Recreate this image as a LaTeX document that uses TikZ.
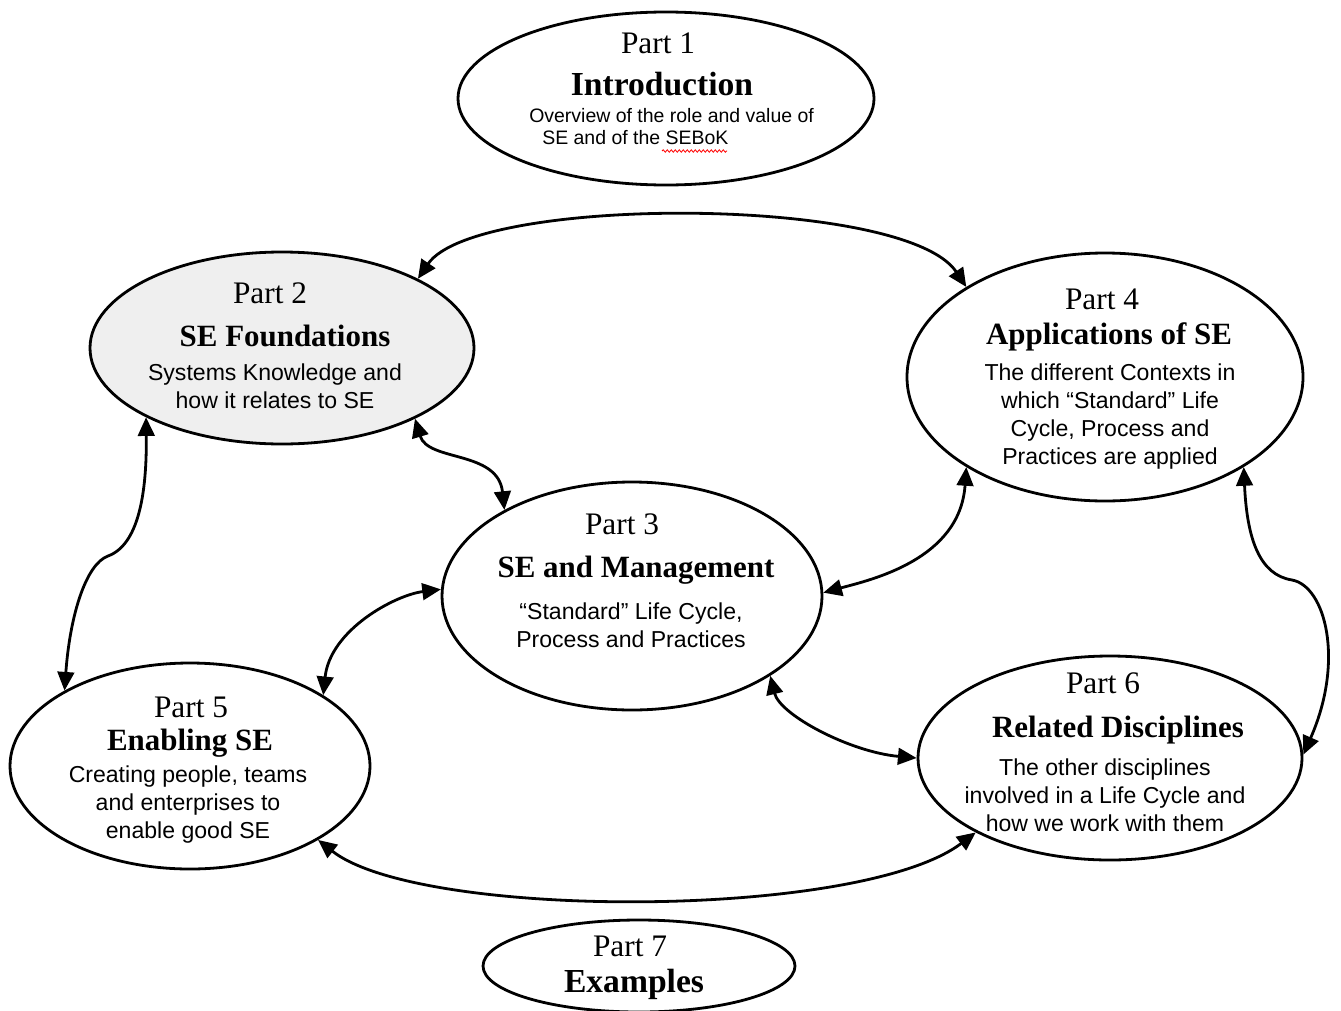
\documentclass[tikz,border=0pt]{standalone}
\usepackage{fontspec}
\setmainfont{Liberation Serif}
\newfontfamily\arialf{Liberation Sans}
\usetikzlibrary{arrows.meta,shapes.geometric,decorations.pathmorphing}
\definecolor{fgray}{RGB}{239,239,239}
\begin{document}
\begin{tikzpicture}[x=0.75pt,y=-0.75pt,
  part/.style={draw, ellipse, line width=2.1pt, inner sep=0pt},
  lbl/.style={inner sep=0pt, font=\fontsize{23.5}{27}\selectfont},
  ttl/.style={inner sep=0pt, font=\fontsize{23.2}{27}\selectfont\bfseries},
  bigttl/.style={inner sep=0pt, font=\fontsize{25.2}{29}\selectfont\bfseries},
  dsc/.style={inner sep=0pt, align=center, font=\arialf\fontsize{17.3}{21}\selectfont},
  sdsc/.style={inner sep=0pt, anchor=west, font=\arialf\fontsize{14.6}{17}\selectfont},
  tip/.style={Triangle[length=14pt,width=12.5pt]},
  conn/.style={line width=2.1pt, {Triangle[length=14pt,width=12.5pt]}-{Triangle[length=14pt,width=12.5pt]}}
]
\useasboundingbox (0,0) rectangle (1341,1010);

% ellipses
\node[part, minimum width=312pt, minimum height=129.75pt] (p1) at (666,98.5) {};
\node[part, fill=fgray, minimum width=288pt, minimum height=144pt] (p2) at (282,348) {};
\node[part, minimum width=285pt, minimum height=171pt] (p3) at (632,596) {};
\node[part, minimum width=297pt, minimum height=186pt] (p4) at (1105,377) {};
\node[part, minimum width=270pt, minimum height=154.5pt] (p5) at (190,766) {};
\node[part, minimum width=288pt, minimum height=153pt] (p6) at (1110,758) {};
\node[part, minimum width=234pt, minimum height=69pt] (p7) at (639,966) {};

% Part 1
\node[lbl] (p1a) at (658,43) {Part 1};
\node[bigttl] (p1b) at (662,84) {Introduction};
\node[sdsc] (p1c) at (529,116) {Overview of the role and value of};
\node[sdsc] (p1d) at (542,138) {SE and of the SEBoK};
\draw[red, line width=0.6pt, decorate, decoration={snake, segment length=3pt, amplitude=0.9pt}] (662,151) -- (727,151);

% Part 2
\node[lbl] (p2a) at (270,293) {Part 2};
\node[ttl] (p2b) at (285,336) {SE Foundations};
\node[dsc] (p2c) at (275,386) {Systems Knowledge and\\how it relates to SE};

% Part 3
\node[lbl] (p3a) at (622,524) {Part 3};
\node[ttl] (p3b) at (636,570) {SE and Management};
\node[dsc] (p3c) at (631,625.5) {“Standard” Life Cycle,\\Process and Practices};

% Part 4
\node[lbl] (p4a) at (1102,299) {Part 4};
\node[ttl] (p4b) at (1109,337) {Applications of SE};
\node[dsc] (p4c) at (1110,417) {The different Contexts in\\which “Standard” Life\\Cycle, Process and\\Practices are applied};

% Part 5
\node[lbl] (p5a) at (191,707) {Part 5};
\node[ttl] (p5b) at (190,743) {Enabling SE};
\node[dsc] (p5c) at (188,805) {Creating people, teams\\and enterprises to\\enable good SE};

% Part 6
\node[lbl] (p6a) at (1103,683) {Part 6};
\node[ttl] (p6b) at (1118,730) {Related Disciplines};
\node[dsc] (p6c) at (1105,795.5) {The other disciplines\\involved in a Life Cycle and\\how we work with them};

% Part 7
\node[lbl] (p7a) at (630,946) {Part 7};
\node[bigttl] (p7b) at (634,984) {Examples};

% connectors
\draw[conn] (p2.27.7) .. controls (475,195) and (905,195) .. (p4.147.3);
\draw[conn] (p2.332.3) .. controls (428,462) and (498,450) .. (p3.146.9);
\draw[conn] (p2.207.4) .. controls (147,495) and (138,545) .. (108,556)
                        .. controls (86,564) and (70,615) .. (p5.149.3);
\draw[conn] (p4.213.2) .. controls (960,560) and (870,580) .. (p3.1.8);
\draw[conn] (p4.327.1) .. controls (1247,540) and (1260,575) .. (1292,580)
                        .. controls (1325,586) and (1345,660) .. (p6.1);
\draw[conn] (p3.178.5) .. controls (395,595) and (330,630) .. (p5.28.4);
\draw[conn] (p3.330.3) .. controls (780,715) and (850,752) .. (p6.180);
\draw[conn] (p5.330.9) .. controls (420,920) and (860,920) .. (p6.209.4);
\end{tikzpicture}
\end{document}
